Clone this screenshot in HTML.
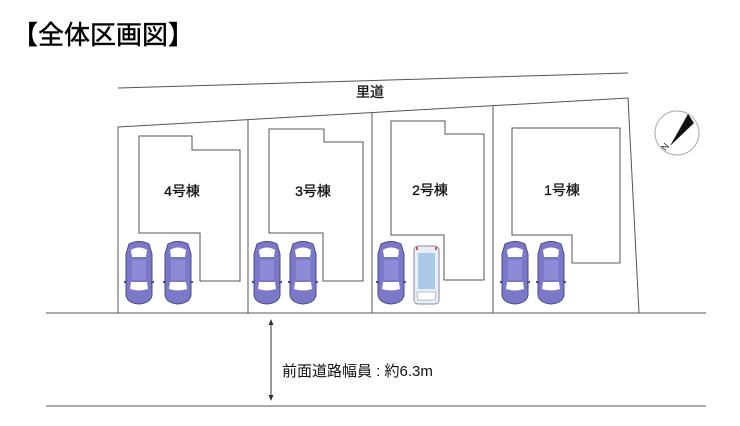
<!DOCTYPE html>
<html><head><meta charset="utf-8"><style>
body{margin:0;background:#fff;}
svg{display:block;}
text{font-family:"Liberation Sans","Noto Sans CJK JP",sans-serif;fill:#111;}
</style></head><body>
<svg width="740" height="426" viewBox="0 0 740 426" xmlns="http://www.w3.org/2000/svg">
<defs>
<g id="car">
 <path d="M4,4 Q14,-1 24,4 L27,14 L27,55 Q26,63 14,64 Q2,63 1,55 L1,14 Z" fill="#7b78c8" stroke="#4a4890" stroke-width="1"/>
 <path d="M6,10 Q14,5 22,10 L21,17 L7,17 Z" fill="#fff"/>
 <rect x="7" y="20" width="14" height="20" fill="#8e8bd6"/>
 <path d="M6,42 L22,42 L23,49 Q14,52 5,49 Z" fill="#fff"/>
 <rect x="-1" y="41" width="3" height="2" fill="#4a4890"/>
 <rect x="26" y="41" width="3" height="2" fill="#4a4890"/>
</g>
<g id="van">
 <rect x="1" y="1" width="25" height="58" rx="4" fill="#e8eef5" stroke="#8a8aa0" stroke-width="1"/>
 <rect x="5" y="8" width="17" height="36" fill="#a9c9e8"/>
 <path d="M4,47 L23,47 L22,55 L5,55 Z" fill="#fff" stroke="#aab" stroke-width="0.8"/>
 <rect x="3" y="2" width="2" height="3" fill="#c55"/>
 <rect x="22" y="2" width="2" height="3" fill="#c55"/>
</g>
</defs>
<text x="12" y="44" font-size="26" style="fill:#000;stroke:#000;stroke-width:0.4">【全体区画図】</text>
<g fill="none" stroke="#555" stroke-width="1">
 <line x1="118" y1="88" x2="628" y2="73"/>
 <polyline points="118,313 118,127 628,98 639,313"/>
 <line x1="248" y1="120" x2="248" y2="313"/>
 <line x1="372" y1="113" x2="372" y2="313"/>
 <line x1="493" y1="106" x2="493" y2="313"/>
 <line x1="46" y1="313" x2="706" y2="313"/>
 <line x1="46" y1="406" x2="706" y2="406"/>
 <polygon points="139,136 192,136 192,150 240,150 240,281 200,281 200,233 139,233"/>
 <polygon points="269,129 324,129 324,142 363,142 363,281 323,281 323,233 269,233"/>
 <polygon points="391,121 445,121 445,134 484,134 484,280 444,280 444,235 391,235"/>
 <polygon points="512,128 620,128 620,263 572,263 572,235 512,235"/>
</g>
<g style="stroke:#111;stroke-width:0.3">
<text x="370" y="97" font-size="14" text-anchor="middle">里道</text>
<text x="182" y="196" font-size="14" text-anchor="middle">4号棟</text>
<text x="313" y="196" font-size="14" text-anchor="middle">3号棟</text>
<text x="430" y="195" font-size="14" text-anchor="middle">2号棟</text>
<text x="562" y="195" font-size="14" text-anchor="middle">1号棟</text>
</g>
<use href="#car" x="125" y="240"/>
<use href="#car" x="164" y="240"/>
<use href="#car" x="253" y="240"/>
<use href="#car" x="289" y="240"/>
<use href="#car" x="377" y="240"/>
<use href="#van" x="413" y="245"/>
<use href="#car" x="501" y="240"/>
<use href="#car" x="537" y="240"/>
<circle cx="677" cy="133" r="22" fill="none" stroke="#aaa" stroke-width="1"/>
<polygon points="670,146 688,114 694,123" fill="#111"/>
<text x="662" y="150" font-size="9" transform="rotate(-50 665 147)">N</text>
<line x1="271" y1="322" x2="271" y2="398" stroke="#333" stroke-width="1"/>
<polygon points="271,319 268.5,325 273.5,325" fill="#333"/>
<polygon points="271,401 268.5,395 273.5,395" fill="#333"/>
<text x="282" y="376" font-size="15">前面道路幅員 : 約6.3m</text>
</svg>
</body></html>
